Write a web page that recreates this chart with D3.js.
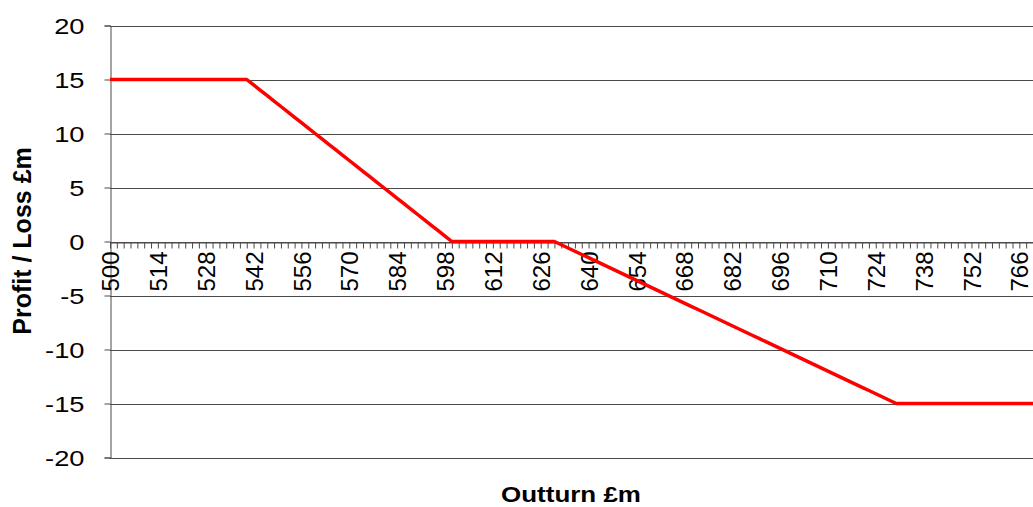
<!DOCTYPE html>
<html>
<head>
<meta charset="utf-8">
<script src="https://cdn.jsdelivr.net/npm/d3@7"></script>
<style>
  html, body { margin: 0; padding: 0; background: #fff; }
  svg { display: block; }
  text { font-family: "Liberation Sans", Arial, sans-serif; fill: #000; }
</style>
</head>
<body>
<svg id="chart" width="1033" height="507"></svg>
<script>
// Outturn (£m), in steps of 2
const outturn = d3.range(0, 136).map(i => 500 + 2 * i);

// Profit / loss (£m) at each outturn
const profitLoss = [
  15, 15, 15, 15, 15, 15, 15, 15, 15, 15, 15, 15, 15, 15, 15, 15, 15, 15, 15, 15, 15,
  14.5, 14, 13.5, 13, 12.5, 12, 11.5, 11, 10.5, 10, 9.5, 9, 8.5, 8, 7.5,
  7, 6.5, 6, 5.5, 5, 4.5, 4, 3.5, 3, 2.5, 2, 1.5, 1, 0.5, 0,
  0, 0, 0, 0, 0, 0, 0, 0, 0, 0, 0, 0, 0, 0, 0,
  -0.3, -0.6, -0.9, -1.2, -1.5, -1.8, -2.1, -2.4, -2.7, -3,
  -3.3, -3.6, -3.9, -4.2, -4.5, -4.8, -5.1, -5.4, -5.7, -6,
  -6.3, -6.6, -6.9, -7.2, -7.5, -7.8, -8.1, -8.4, -8.7, -9,
  -9.3, -9.6, -9.9, -10.2, -10.5, -10.8, -11.1, -11.4, -11.7, -12,
  -12.3, -12.6, -12.9, -13.2, -13.5, -13.8, -14.1, -14.4, -14.7, -15,
  -15, -15, -15, -15, -15, -15, -15, -15, -15, -15,
  -15, -15, -15, -15, -15, -15, -15, -15, -15, -15
];

const yTicks = [-20, -15, -10, -5, 0, 5, 10, 15, 20];
const xLabelEvery = 7; // label every 7th category (500, 514, 528, ...)

const svg = d3.select("#chart");

const plotLeft = 110, plotRight = 1033, plotTop = 25.5, plotBottom = 457.5;

const x = d3.scalePoint().domain(outturn).range([plotLeft, plotRight]);
const y = d3.scaleLinear().domain([-20, 20]).range([plotBottom, plotTop]);

// Horizontal gridlines
svg.append("g")
  .selectAll("line")
  .data(yTicks)
  .join("line")
  .attr("x1", plotLeft).attr("x2", plotRight)
  .attr("y1", d => Math.round(y(d)) + 0.5).attr("y2", d => Math.round(y(d)) + 0.5)
  .attr("stroke", "#4a4a4a").attr("stroke-width", 1);

// Y axis (plain hyphen for negatives)
const yAxis = svg.append("g")
  .attr("transform", `translate(${plotLeft + 0.5},0)`)
  .call(d3.axisLeft(y).tickValues(yTicks).tickSize(6).tickPadding(20).tickFormat(d => String(d)));
yAxis.select(".domain").attr("stroke", "#4a4a4a");
yAxis.selectAll(".tick line").attr("stroke", "#4a4a4a");
yAxis.selectAll(".tick text")
  .style("font-size", "22px")
  .attr("dy", "0.36em")
  .each(function () {
    const t = d3.select(this);
    const xx = +t.attr("x");
    t.attr("x", null).attr("transform", `translate(${xx},0) scale(1.24,1)`);
  });

// X axis along zero
const zeroY = Math.round(y(0)) + 0.5;
const xAxis = svg.append("g")
  .attr("transform", `translate(0,${zeroY})`)
  .call(d3.axisBottom(x).tickSize(6).tickSizeOuter(0)
    .tickFormat((d, i) => (i % xLabelEvery === 0 ? String(d) : "")));
xAxis.select(".domain").attr("stroke", "#4a4a4a");
xAxis.selectAll(".tick line").attr("stroke", "#4a4a4a");
xAxis.selectAll(".tick text")
  .style("font-size", "24px")
  .attr("text-anchor", "end")
  .attr("transform", "rotate(-90)")
  .attr("x", -9)
  .attr("y", 0)
  .attr("dy", "0.36em");

// Profit / loss line
svg.append("path")
  .datum(outturn.map((d, i) => [d, profitLoss[i]]))
  .attr("fill", "none")
  .attr("stroke", "#ff0000")
  .attr("stroke-width", 3.5)
  .attr("stroke-linejoin", "round")
  .attr("d", d3.line().x(d => x(d[0])).y(d => y(d[1])));

// Axis titles
svg.append("text")
  .attr("transform", "translate(31,241) rotate(-90)")
  .attr("text-anchor", "middle")
  .style("font-size", "25px").style("font-weight", "bold")
  .text("Profit / Loss £m");

svg.append("text")
  .attr("transform", "translate(571,502) scale(1.18,1)")
  .attr("text-anchor", "middle")
  .style("font-size", "22px").style("font-weight", "bold")
  .text("Outturn £m");
</script>
</body>
</html>
